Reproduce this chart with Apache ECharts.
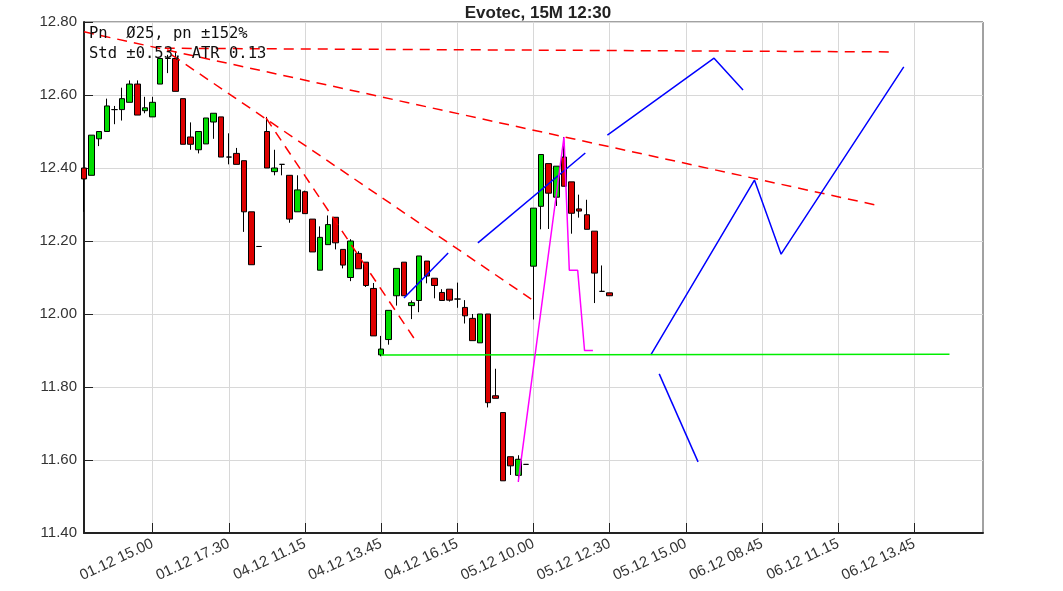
<!DOCTYPE html>
<html><head><meta charset="utf-8">
<script src="https://cdn.jsdelivr.net/npm/echarts@6/dist/echarts.min.js"></script>
<style>html,body{margin:0;padding:0;background:#fff}#c{width:1063px;height:591px}</style>
</head><body><div id="c"></div>
<script>
// ---- data ----
const titleText = 'Evotec, 15M 12:30';
const infoLine1 = 'Pn  \u00d825, pn \u00b1152%';
const infoLine2 = 'Std \u00b10.53, ATR 0.13';
const categoryCount = 119;
const tickIndices = [9, 19, 29, 39, 49, 59, 69, 79, 89, 99, 109];
const tickLabels = ['01.12 15.00', '01.12 17.30', '04.12 11.15', '04.12 13.45', '04.12 16.15',
  '05.12 10.00', '05.12 12.30', '05.12 15.00', '06.12 08.45', '06.12 11.15', '06.12 13.45'];
const opens = [12.40, 12.38, 12.48, 12.50, 12.56, 12.56, 12.58, 12.63, 12.557, 12.54,
  12.63, 12.70, 12.70, 12.59, 12.485, 12.45, 12.466, 12.526, 12.54, 12.43,
  12.44, 12.42, 12.28, 12.185, 12.50, 12.39, 12.41, 12.38, 12.28, 12.335,
  12.26, 12.12, 12.19, 12.265, 12.177, 12.10, 12.166, 12.142, 12.07, 11.888,
  11.93, 12.05, 12.142, 12.023, 12.037, 12.145, 12.098, 12.059, 12.068, 12.041,
  12.018, 11.988, 11.921, 12.00, 11.776, 11.73, 11.609, 11.558, 11.588, 12.131,
  12.295, 12.412, 12.32, 12.43, 12.362, 12.288, 12.272, 12.227, 12.062, 12.058];
const closes = [12.37, 12.49, 12.50, 12.57, 12.56, 12.59, 12.63, 12.545, 12.565, 12.58,
  12.70, 12.70, 12.61, 12.465, 12.465, 12.50, 12.537, 12.55, 12.43, 12.43,
  12.41, 12.28, 12.135, 12.185, 12.40, 12.40, 12.41, 12.26, 12.34, 12.275,
  12.17, 12.21, 12.245, 12.195, 12.134, 12.20, 12.124, 12.078, 11.94, 11.904,
  12.01, 12.125, 12.05, 12.031, 12.159, 12.104, 12.078, 12.037, 12.038, 12.041,
  11.995, 11.927, 12.00, 11.757, 11.769, 11.543, 11.584, 11.602, 11.588, 12.29,
  12.437, 12.331, 12.405, 12.35, 12.276, 12.282, 12.232, 12.112, 12.062, 12.05];
const lows = [12.28, 12.38, 12.46, 12.50, 12.52, 12.53, 12.58, 12.545, 12.55, 12.54,
  12.63, 12.66, 12.61, 12.465, 12.45, 12.44, 12.466, 12.48, 12.43, 12.41,
  12.41, 12.225, 12.135, 12.184, 12.40, 12.38, 12.38, 12.25, 12.28, 12.275,
  12.17, 12.12, 12.19, 12.177, 12.125, 12.09, 12.124, 12.074, 11.94, 11.884,
  11.916, 12.023, 12.05, 11.986, 12.005, 12.084, 12.043, 12.037, 12.034, 12.017,
  11.974, 11.927, 11.921, 11.744, 11.769, 11.543, 11.559, 11.54, 11.587, 11.985,
  12.232, 12.233, 12.296, 12.35, 12.22, 12.264, 12.232, 12.03, 12.062, 12.05];
const highs = [12.40, 12.49, 12.50, 12.59, 12.57, 12.62, 12.64, 12.64, 12.595, 12.595,
  12.70, 12.71, 12.72, 12.59, 12.525, 12.50, 12.537, 12.55, 12.54, 12.495,
  12.455, 12.42, 12.28, 12.186, 12.54, 12.45, 12.41, 12.38, 12.38, 12.338,
  12.26, 12.24, 12.27, 12.265, 12.177, 12.205, 12.172, 12.142, 12.085, 11.94,
  12.01, 12.125, 12.142, 12.037, 12.159, 12.145, 12.098, 12.068, 12.068, 12.086,
  12.038, 12.00, 12.00, 12.00, 11.85, 11.73, 11.609, 11.613, 11.589, 12.29,
  12.437, 12.412, 12.405, 12.485, 12.362, 12.327, 12.313, 12.227, 12.133, 12.058];
// overlay lines: [bar index, price]
const redTrend1 = [[0, 12.773], [104.5, 12.296]];
const redTrend2 = [[10.6, 12.728], [106.3, 12.718]];
const redTrend3 = [[11.5, 12.71], [58.7, 12.041]];
const redTrend4 = [[23.9, 12.537], [43.3, 11.934]];
const blue1 = [[42.0, 12.044], [47.8, 12.167]];
const blue2 = [[51.7, 12.195], [65.8, 12.441]];
const blue3 = [[68.7, 12.49], [82.7, 12.701], [86.5, 12.614]];
const blue4 = [[74.4, 11.888], [88.0, 12.367], [91.5, 12.164], [107.6, 12.677]];
const blue5 = [[75.5, 11.836], [80.6, 11.595]];
const greenLevel = [[39, 11.888], [113.6, 11.89]];
const magentaPath = [[57, 11.54], [63, 12.485], [63.7, 12.12], [64.8, 12.12], [65.7, 11.9], [66.8, 11.9]];
const yMin = 11.4, yMax = 12.8, yStep = 0.2;

// ---- build ----
const cats = Array.from({length: categoryCount}, (_, i) => String(i));
const labelMap = {};
tickIndices.forEach((ix, k) => { labelMap[ix] = tickLabels[k]; });
const isTick = (i) => labelMap[i] !== undefined;
const candles = opens.map((o, i) => [o, closes[i], lows[i], highs[i]]);

function lineSeries(data, color, dashed, width) {
  return {
    type: 'line', xAxisIndex: 1, yAxisIndex: 0, data: data, symbol: 'none',
    silent: true, z: 5,
    lineStyle: {color: color, width: width || 1.5, type: dashed ? [10, 7] : 'solid'}
  };
}

const chart = echarts.init(document.getElementById('c'), null, {renderer: 'canvas'});
chart.setOption({
  animation: false,
  backgroundColor: '#fff',
  title: {
    text: titleText, left: 533, top: 0, textAlign: 'center',
    textStyle: {fontFamily: 'Liberation Sans', fontSize: 17, fontWeight: 'bold', color: '#222'}
  },
  grid: {left: 84, right: 80, top: 22, bottom: 58, show: true, borderColor: '#444', borderWidth: 1, backgroundColor: '#fff'},
  xAxis: [{
    type: 'category', data: cats, boundaryGap: false,
    axisLine: {lineStyle: {color: '#222', width: 2}},
    axisTick: {inside: true, length: 10, interval: (i) => isTick(i), lineStyle: {color: '#222'}},
    splitLine: {show: true, interval: (i) => isTick(i), lineStyle: {color: '#d8d8d8', width: 1}},
    axisLabel: {
      interval: (i) => isTick(i), rotate: 25, margin: 10,
      formatter: (v, i) => labelMap[i] || '',
      fontFamily: 'Liberation Sans', fontSize: 15, color: '#333'
    }
  }, {
    type: 'value', min: 0, max: categoryCount - 1, show: false
  }],
  yAxis: {
    type: 'value', min: yMin, max: yMax, interval: yStep,
    axisLine: {show: true, lineStyle: {color: '#222', width: 2}},
    axisTick: {show: true, inside: true, length: 9, lineStyle: {color: '#222'}},
    splitLine: {show: true, lineStyle: {color: '#d8d8d8', width: 1}},
    axisLabel: {formatter: (v) => v.toFixed(2), margin: 7, fontFamily: 'Liberation Sans', fontSize: 15, color: '#333'}
  },
  graphic: [
    {type: 'text', left: 89, top: 26, z: 100, style: {text: infoLine1, font: '15.5px "DejaVu Sans Mono"', fill: '#111'}},
    {type: 'text', left: 89, top: 46, z: 100, style: {text: infoLine2, font: '15.5px "DejaVu Sans Mono"', fill: '#111'}}
  ],
  series: [
    {
      type: 'candlestick', data: candles, barWidth: 6, z: 2,
      itemStyle: {color: '#00dd00', color0: '#dd0000', borderColor: '#000', borderColor0: '#000', borderColorDoji: '#000', borderWidth: 1}
    },
    lineSeries(redTrend1, '#ff0000', true),
    lineSeries(redTrend2, '#ff0000', true),
    lineSeries(redTrend3, '#ff0000', true),
    lineSeries(redTrend4, '#ff0000', true),
    lineSeries(blue1, '#0000ff', false),
    lineSeries(blue2, '#0000ff', false),
    lineSeries(blue3, '#0000ff', false),
    lineSeries(blue4, '#0000ff', false),
    lineSeries(blue5, '#0000ff', false),
    lineSeries(greenLevel, '#00ee00', false),
    lineSeries(magentaPath, '#ff00ff', false)
  ]
});
</script></body></html>
